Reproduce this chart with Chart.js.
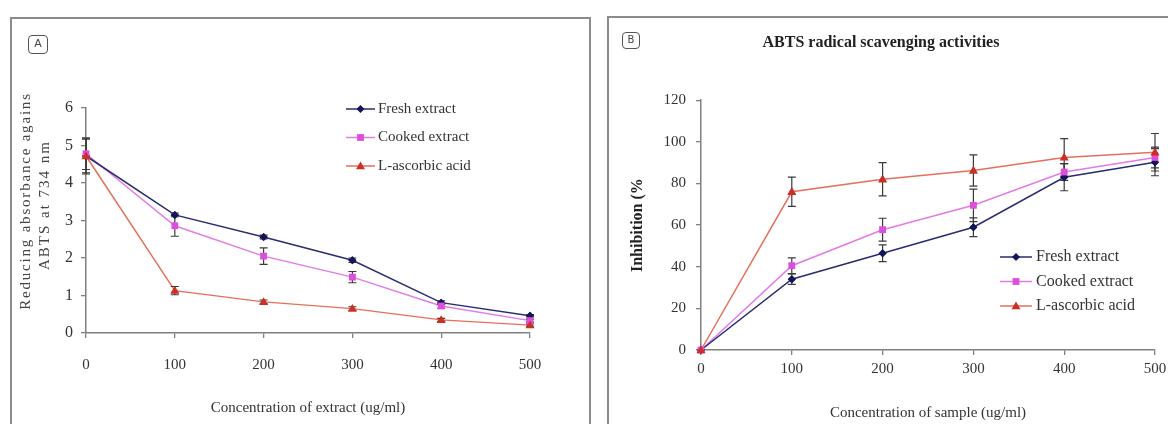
<!DOCTYPE html>
<html>
<head>
<meta charset="utf-8">
<script src="https://cdn.jsdelivr.net/npm/chart.js@4.4.1/dist/chart.umd.min.js"></script>
<style>
  html, body { margin: 0; padding: 0; background: #fff; width: 1168px; height: 424px; overflow: hidden; }
  .panel { position: absolute; }
  .frame { position: absolute; box-sizing: border-box; border: 2px solid #8c8c8c; border-bottom: none; pointer-events: none; }
  .tag { position: absolute; box-sizing: border-box; border: 1.5px solid #555; border-radius: 4px;
         font: 11px 'DejaVu Sans', sans-serif; color: #444; text-align: center; }
</style>
</head>
<body>
<div class="panel" id="panelA" style="left:10px;top:17px;width:580px;height:407px;"><canvas id="chartA"></canvas></div>
<div class="frame" style="left:10px;top:17px;width:581px;height:420px;"></div>
<div class="tag" style="left:28px;top:35px;width:20px;height:19px;line-height:16px;">A</div>

<div class="panel" id="panelB" style="left:607px;top:16px;width:575px;height:408px;"><canvas id="chartB"></canvas></div>
<div class="frame" style="left:607px;top:16px;width:600px;height:420px;"></div>
<div class="tag" style="left:622px;top:32px;width:18px;height:17px;line-height:14px;font-size:10px;">B</div>

<script>
// ---- data ----
const conc = [0, 100, 200, 300, 400, 500];
const seriesNames = ['Fresh extract', 'Cooked extract', 'L-ascorbic acid'];

// Panel A: reducing absorbance against ABTS at 734 nm
const freshA = [4.72, 3.15, 2.56, 1.94, 0.81, 0.46];
const cookedA = [4.78, 2.86, 2.05, 1.49, 0.72, 0.33];
const ascorbicA = [4.72, 1.13, 0.83, 0.65, 0.35, 0.21];
const freshErrA = [0.45, 0.05, 0.05, 0.06, 0.05, 0.03];
const cookedErrA = [0.42, 0.28, 0.22, 0.15, 0.06, 0.04];
const ascorbicErrA = [0.48, 0.11, 0.05, 0.05, 0.04, 0.03];

// Panel B: ABTS radical scavenging activities (% inhibition)
const freshB = [0, 34, 46.5, 59, 83, 90.2];
const cookedB = [0, 40.5, 57.8, 69.5, 85.5, 92.5];
const ascorbicB = [0, 76, 82, 86.2, 92.5, 95];
const freshErrB = [0, 2.5, 4, 4.5, 6.5, 6.5];
const cookedErrB = [0, 3.8, 5.5, 7.8, 4, 5];
const ascorbicErrB = [0, 7, 8, 7.5, 9, 9];

// ---- styles ----
const SERIF = "'Liberation Serif', 'Times New Roman', serif";
const styles = [
    { line: '#2b2b72', mark: '#14145a', shape: 'rectRot', r: 4 },
    { line: '#e27be6', mark: '#dc4fdc', shape: 'rect', r: 4 },
    { line: '#e4705c', mark: '#cc2f25', shape: 'triangle', r: 4.5 }
];

function drawMarker(ctx, shape, x, y, r, color) {
    ctx.save();
    ctx.fillStyle = color;
    ctx.beginPath();
    if (shape === 'rectRot') {
        ctx.moveTo(x, y - r); ctx.lineTo(x + r, y); ctx.lineTo(x, y + r); ctx.lineTo(x - r, y);
    } else if (shape === 'rect') {
        ctx.rect(x - r * 0.85, y - r * 0.85, r * 1.7, r * 1.7);
    } else {
        ctx.moveTo(x, y - r); ctx.lineTo(x + r, y + r * 0.7); ctx.lineTo(x - r, y + r * 0.7);
    }
    ctx.closePath();
    ctx.fill();
    ctx.restore();
}

function makeDatasets(values) {
    return values.map((vals, i) => ({
        label: seriesNames[i],
        data: conc.map((c, j) => ({ x: c, y: vals[j] })),
        borderColor: styles[i].line,
        backgroundColor: styles[i].mark,
        pointBackgroundColor: styles[i].mark,
        pointBorderColor: styles[i].mark,
        pointStyle: styles[i].shape,
        pointRadius: styles[i].r,
        pointBorderWidth: 0,
        borderWidth: 1.5,
        tension: 0,
        clip: false
    }));
}

// error bars drawn from the arrays through the y scale
const errorBars = {
    id: 'errorBars',
    afterDatasetsDraw(chart, args, opts) {
        const ctx = chart.ctx;
        const yScale = chart.scales.y;
        ctx.save();
        ctx.strokeStyle = opts.color || '#444';
        ctx.lineWidth = 1.2;
        opts.errors.forEach((errs, di) => {
            const meta = chart.getDatasetMeta(di);
            meta.data.forEach((pt, j) => {
                const e = errs[j];
                if (!e) return;
                const v = chart.data.datasets[di].data[j].y;
                const top = yScale.getPixelForValue(v + e);
                const bot = yScale.getPixelForValue(v - e);
                const x = pt.x;
                ctx.beginPath();
                ctx.moveTo(x, top); ctx.lineTo(x, bot);
                ctx.moveTo(x - 4, top); ctx.lineTo(x + 4, top);
                ctx.moveTo(x - 4, bot); ctx.lineTo(x + 4, bot);
                ctx.stroke();
            });
        });
        ctx.restore();
        // redraw points on top of the bars
        chart.data.datasets.forEach((ds, di) => {
            chart.getDatasetMeta(di).data.forEach(pt => {
                drawMarker(ctx, styles[di].shape, pt.x, pt.y, styles[di].r, styles[di].mark);
            });
        });
    }
};

// legend drawn inside the plot
const inLegend = {
    id: 'inLegend',
    afterDraw(chart, args, opts) {
        const ctx = chart.ctx;
        ctx.save();
        ctx.font = opts.font;
        ctx.textBaseline = 'middle';
        seriesNames.forEach((name, i) => {
            const y = opts.y + i * opts.gap;
            ctx.strokeStyle = styles[i].line;
            ctx.lineWidth = 1.5;
            ctx.beginPath();
            ctx.moveTo(opts.x0, y); ctx.lineTo(opts.x1, y);
            ctx.stroke();
            drawMarker(ctx, styles[i].shape, (opts.x0 + opts.x1) / 2, y, styles[i].r, styles[i].mark);
            ctx.fillStyle = '#333';
            ctx.fillText(name, opts.tx, y);
        });
        ctx.restore();
    }
};

// two-line spaced y title of panel A
const spacedTitle = {
    id: 'spacedTitle',
    afterDraw(chart, args, opts) {
        if (!opts.lines) return;
        const ctx = chart.ctx;
        ctx.save();
        ctx.font = opts.font;
        ctx.fillStyle = '#444';
        ctx.textAlign = 'center';
        ctx.textBaseline = 'middle';
        opts.lines.forEach(l => {
            ctx.save();
            ctx.letterSpacing = l.spacing;
            ctx.translate(l.x, l.y);
            ctx.rotate(-Math.PI / 2);
            ctx.fillText(l.text, 0, 0);
            ctx.restore();
        });
        ctx.restore();
    }
};

function axisGrid() {
    return { display: true, drawOnChartArea: false, drawTicks: true, tickLength: 5, color: '#808080', lineWidth: 1.3 };
}

// ---- panel A ----
new Chart(document.getElementById('chartA'), {
    type: 'line',
    data: { datasets: makeDatasets([freshA, cookedA, ascorbicA]) },
    plugins: [errorBars, inLegend, spacedTitle],
    options: {
        responsive: true, maintainAspectRatio: false, animation: false,
        layout: { padding: { top: 91, right: 60, bottom: 7, left: 0 } },
        plugins: {
            legend: { display: false }, tooltip: { enabled: false },
            errorBars: { errors: [freshErrA, cookedErrA, ascorbicErrA], color: '#3a3a3a' },
            inLegend: { x0: 336, x1: 365, tx: 368, y: 92, gap: 28.5, font: '15px ' + SERIF },
            spacedTitle: {
                font: '15px ' + SERIF,
                lines: [
                    { text: 'Reducing absorbance agains', x: 16, y: 184, spacing: '1.8px' },
                    { text: 'ABTS at 734 nm', x: 35, y: 188, spacing: '2px' }
                ]
            }
        },
        scales: {
            x: {
                type: 'linear', min: 0, max: 500,
                ticks: { stepSize: 100, padding: 18, color: '#333', font: { family: SERIF, size: 15 } },
                grid: axisGrid(),
                border: { color: '#808080', width: 1.5 },
                title: { display: true, text: 'Concentration of extract (ug/ml)', color: '#333',
                         font: { family: SERIF, size: 15 }, padding: { top: 7, bottom: 0 } }
            },
            y: {
                min: 0, max: 6,
                afterFit(scale) { scale.width = 76; },
                ticks: { stepSize: 1, padding: 8, color: '#333', font: { family: SERIF, size: 16 } },
                grid: axisGrid(),
                border: { color: '#808080', width: 1.5 }
            }
        }
    }
});

// ---- panel B ----
new Chart(document.getElementById('chartB'), {
    type: 'line',
    data: { datasets: makeDatasets([freshB, cookedB, ascorbicB]) },
    plugins: [errorBars, inLegend],
    options: {
        responsive: true, maintainAspectRatio: false, animation: false,
        layout: { padding: { top: 0, right: 27, bottom: 2, left: 0 } },
        plugins: {
            legend: { display: false }, tooltip: { enabled: false },
            title: {
                display: true, text: 'ABTS radical scavenging activities', color: '#222',
                font: { family: SERIF, size: 16, weight: 'bold' }, padding: { top: 17, bottom: 48 }
            },
            errorBars: { errors: [freshErrB, cookedErrB, ascorbicErrB], color: '#3a3a3a' },
            inLegend: { x0: 393, x1: 425, tx: 429, y: 241, gap: 24.5, font: '16px ' + SERIF }
        },
        scales: {
            x: {
                type: 'linear', min: 0, max: 500,
                ticks: { stepSize: 100, padding: 5, color: '#333', font: { family: SERIF, size: 15 } },
                grid: axisGrid(),
                border: { color: '#808080', width: 1.5 },
                title: { display: true, text: 'Concentration of sample (ug/ml)', color: '#333',
                         font: { family: SERIF, size: 15 }, padding: { top: 21, bottom: 0 } }
            },
            y: {
                min: 0, max: 120,
                afterFit(scale) { scale.width = 94; },
                ticks: { stepSize: 20, padding: 10, color: '#333', font: { family: SERIF, size: 15 } },
                grid: axisGrid(),
                border: { color: '#808080', width: 1.5 },
                title: { display: true, text: 'Inhibition (%', color: '#222',
                         font: { family: SERIF, size: 16, weight: 'bold' }, padding: { top: 21, bottom: 0 } }
            }
        }
    }
});
</script>
</body>
</html>
